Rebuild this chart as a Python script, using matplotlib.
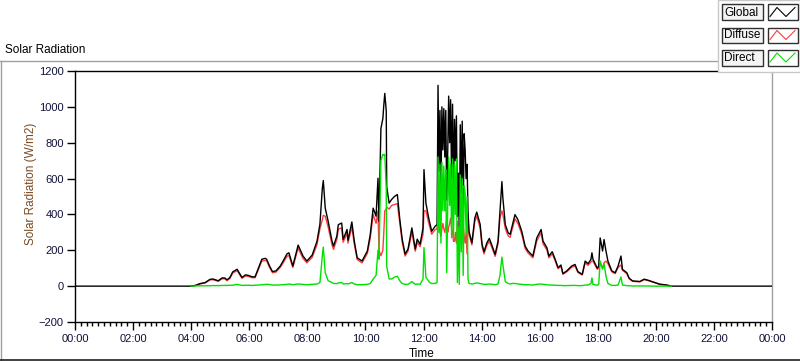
import numpy as np
import matplotlib
matplotlib.use("Agg")
import matplotlib.pyplot as plt
from matplotlib.lines import Line2D
from matplotlib.patches import Rectangle
from matplotlib.ticker import MultipleLocator, FuncFormatter

plt.rcParams['font.family'] = ['Liberation Sans', 'DejaVu Sans']

# readings (W/m2), diffuse/direct only logged in daylight
times = ["00:00", "03:58",
         "04:00", "04:10", "04:18", "04:29", "04:39", "04:45", "04:56", "05:04", "05:10", "05:14",
         "05:20", "05:26", "05:35", "05:45", "05:52", "05:58", "06:06", "06:12", "06:18", "06:26",
         "06:33", "06:36", "06:42", "06:48", "06:55", "07:04", "07:10", "07:18", "07:22", "07:30",
         "07:41", "07:51", "07:59", "08:10", "08:20", "08:26", "08:31", "08:33", "08:37", "08:43",
         "08:51", "08:54", "09:01", "09:04", "09:11", "09:14", "09:22", "09:24", "09:32", "09:37",
         "09:43", "09:53", "10:04", "10:10", "10:16", "10:22", "10:26", "10:28", "10:32", "10:36",
         "10:38", "10:40", "10:43", "10:44", "10:49", "10:54", "11:00", "11:06", "11:11", "11:16",
         "11:22", "11:28", "11:36", "11:43", "11:47", "11:53", "11:59", "12:01", "12:05", "12:10",
         "12:13", "12:17", "12:24", "12:28", "12:30", "12:32", "12:34", "12:36", "12:38", "12:40",
         "12:42", "12:44", "12:46", "12:48", "12:50", "12:52", "12:54", "12:56", "12:58", "13:00",
         "13:02", "13:04", "13:06", "13:08", "13:10", "13:12", "13:14", "13:16", "13:18", "13:20",
         "13:22", "13:24", "13:26", "13:28", "13:30", "13:32", "13:34", "13:40", "13:46", "13:50",
         "13:57", "14:01", "14:05", "14:11", "14:16", "14:22", "14:28", "14:34", "14:38", "14:42",
         "14:44", "14:49", "14:55", "14:59", "15:03", "15:09", "15:15", "15:23", "15:30", "15:36",
         "15:46", "15:54", "16:03", "16:07", "16:15", "16:19", "16:26", "16:32", "16:38", "16:44",
         "16:48", "16:56", "17:06", "17:13", "17:19", "17:28", "17:34", "17:40", "17:46", "17:48",
         "17:50", "17:59", "18:02", "18:05", "18:10", "18:13", "18:17", "18:21", "18:29", "18:36",
         "18:42", "18:48", "18:51", "19:00", "19:05", "19:12", "19:27", "19:36", "19:44", "19:58",
         "20:08", "20:23", "20:32", "24:00"]

global_rad = [0, 0,
              0, 5, 14, 20, 38, 40, 30, 46, 45, 35,
              48, 80, 94, 48, 63, 60, 52, 52, 94, 150,
              155, 150, 112, 81, 85, 112, 140, 180, 186, 112,
              229, 168, 140, 173, 251, 345, 546, 589, 435, 362,
              251, 223, 279, 343, 352, 260, 316, 256, 358, 251,
              158, 140, 196, 288, 435, 390, 602, 362, 879, 934,
              1010, 1075, 980, 555, 463, 483, 500, 511, 373, 262,
              179, 207, 325, 207, 262, 234, 325, 650, 463, 390,
              352, 306, 334, 343, 1120, 640, 980, 520, 1000, 760,
              990, 720, 980, 480, 740, 1060, 800, 1040, 600, 1015,
              520, 930, 700, 950, 390, 630, 280, 900, 520, 920,
              400, 850, 760, 600, 680, 417, 306, 242, 380, 413,
              345, 234, 192, 242, 266, 223, 177, 251, 417, 583,
              491, 343, 297, 289, 334, 399, 371, 306, 223, 196,
              168, 269, 316, 251, 214, 168, 192, 150, 103, 118,
              70, 85, 112, 121, 81, 66, 140, 125, 150, 186,
              151, 100, 112, 269, 196, 260, 196, 140, 85, 75,
              112, 168, 94, 75, 44, 29, 26, 39, 33, 20,
              11, 6, 0, 0]

diffuse_rad = [None, None,
               0, 4, 12, 18, 35, 36, 27, 42, 40, 31,
               43, 74, 86, 44, 57, 54, 47, 47, 87, 140,
               143, 140, 104, 75, 78, 104, 130, 166, 172, 104,
               212, 155, 130, 160, 232, 320, 370, 395, 390, 330,
               230, 205, 260, 318, 325, 245, 295, 240, 330, 235,
               148, 130, 182, 268, 400, 350, 420, 200, 170, 200,
               300, 420, 430, 440, 430, 450, 455, 460, 350, 245,
               168, 195, 300, 195, 245, 220, 290, 420, 420, 360,
               330, 290, 315, 320, 400, 330, 300, 280, 320, 350,
               320, 300, 330, 380, 300, 330, 350, 380, 330, 300,
               250, 250, 300, 240, 360, 300, 270, 280, 330, 300,
               340, 280, 240, 300, 180, 380, 290, 230, 360, 390,
               325, 220, 180, 228, 250, 210, 166, 236, 380, 420,
               400, 320, 280, 272, 315, 375, 350, 290, 210, 185,
               158, 252, 298, 236, 202, 158, 180, 142, 97, 111,
               66, 80, 105, 113, 76, 62, 130, 116, 135, 140,
               140, 94, 100, 130, 100, 130, 140, 125, 80, 70,
               104, 118, 88, 70, 41, 27, 24, 36, 31, 19,
               10, 5, 0, None]

direct_rad = [None, None,
              0, 1, 2, 2, 3, 3, 3, 4, 4, 4,
              5, 5, 10, 4, 5, 5, 4, 5, 6, 8,
              10, 10, 9, 6, 6, 7, 8, 10, 12, 8,
              12, 10, 8, 10, 12, 20, 170, 218, 75, 30,
              20, 15, 14, 18, 20, 12, 14, 12, 20, 12,
              8, 8, 10, 15, 40, 60, 200, 150, 700, 735,
              730, 735, 550, 110, 40, 40, 50, 55, 30, 15,
              10, 10, 25, 10, 12, 10, 40, 215, 50, 30,
              20, 15, 15, 20, 720, 300, 680, 240, 690, 420,
              670, 420, 650, 75, 440, 720, 450, 680, 270, 710,
              270, 680, 400, 710, 20, 330, 10, 620, 190, 600,
              60, 560, 520, 300, 500, 40, 15, 12, 15, 18,
              15, 12, 10, 10, 12, 10, 8, 12, 60, 162,
              120, 25, 15, 12, 15, 15, 12, 10, 8, 8,
              6, 10, 12, 10, 8, 6, 6, 5, 4, 4,
              3, 3, 4, 4, 3, 3, 6, 6, 15, 46,
              10, 5, 10, 140, 95, 125, 55, 15, 4, 4,
              6, 51, 6, 3, 2, 1, 1, 1, 1, 0,
              0, 0, 0, None]

hours = np.array([int(t[:2]) + int(t[3:]) / 60 for t in times])
g = np.array(global_rad, dtype=float)
d = np.array([np.nan if v is None else v for v in diffuse_rad], dtype=float)
b = np.array([np.nan if v is None else v for v in direct_rad], dtype=float)

W, H = 800, 361


def fx(px):
    return px / W


def fy(py):
    return 1 - py / H


fig = plt.figure(figsize=(8, 3.61), dpi=100)
fig.patch.set_facecolor('white')

ax = fig.add_axes([fx(75), fy(322), fx(772) - fx(75), fy(71) - fy(322)])
ax.plot(hours, d, color='#ff3c3c', lw=1, zorder=2)
ax.plot(hours, g, color='black', lw=1, zorder=3)
ax.plot(hours, b, color='#00e000', lw=1, zorder=4)

ax.set_xlim(0, 24)
ax.set_ylim(-200, 1200)
ax.xaxis.set_major_locator(MultipleLocator(2))
ax.xaxis.set_minor_locator(MultipleLocator(0.2))
ax.yaxis.set_major_locator(MultipleLocator(200))
ax.xaxis.set_major_formatter(FuncFormatter(lambda v, p: "%02d:00" % (int(round(v)) % 24)))

lab_col = '#101038'
ax.tick_params(axis='x', which='major', length=6, width=1, pad=3, labelsize=8, colors='black', labelcolor=lab_col)
ax.tick_params(axis='x', which='minor', length=3, width=1, colors='black')
ax.tick_params(axis='y', which='major', length=6, width=1, pad=2, labelsize=8, colors='black', labelcolor=lab_col)

for side in ['left', 'bottom', 'top']:
    ax.spines[side].set_color('black')
    ax.spines[side].set_linewidth(1)
ax.spines['right'].set_color('#a0a0a0')
ax.spines['right'].set_linewidth(1)

fig.text(fx(31), fy(184), 'Solar Radiation (W/m2)', rotation=90, ha='center', va='center',
         fontsize=8.5, color='#7a4a22')
fig.text(fx(422), fy(354), 'Time', ha='center', va='center', fontsize=8.5, color='black')
fig.text(fx(5), fy(50), 'Solar Radiation', ha='left', va='center', fontsize=8.5, color='black')

# outer frame
fig.add_artist(Line2D([fx(0), fx(717)], [fy(61), fy(61)], color='#a0a0a0', lw=1))
fig.add_artist(Line2D([fx(0.5), fx(0.5)], [fy(61), fy(360)], color='#a0a0a0', lw=1))
fig.add_artist(Line2D([fx(0), fx(800)], [fy(359.5), fy(359.5)], color='#202020', lw=1.2))

# legend panel
fig.add_artist(Rectangle((fx(717.5), fy(72)), fx(800) - fx(717.5), fy(0) - fy(72),
                         facecolor='white', edgecolor='#c8c8c8', lw=1, zorder=5))
names = ['Global', 'Diffuse', 'Direct']
colors = ['black', '#ff3c3c', '#00e000']
row_top = [4.5, 27.5, 50]
for name, col, top in zip(names, colors, row_top):
    fig.add_artist(Rectangle((fx(721.5), fy(top + 15.5)), fx(762.5) - fx(721.5), fy(top) - fy(top + 15.5),
                             facecolor='#f4f4f4', edgecolor='#303030', lw=1, zorder=6))
    fig.text(fx(724), fy(top + 8), name, ha='left', va='center', fontsize=8.5, color='black', zorder=7)
    fig.add_artist(Rectangle((fx(767.5), fy(top + 15.5)), fx(798) - fx(767.5), fy(top) - fy(top + 15.5),
                             facecolor='white', edgecolor='#303030', lw=1, zorder=6))
    zx = [770, 777, 786, 795]
    zy = [top + 12, top + 3, top + 12, top + 3]
    fig.add_artist(Line2D([fx(v) for v in zx], [fy(v) for v in zy], color=col, lw=0.8, zorder=7))

fig.savefig('out.png', dpi=100, facecolor='white')
